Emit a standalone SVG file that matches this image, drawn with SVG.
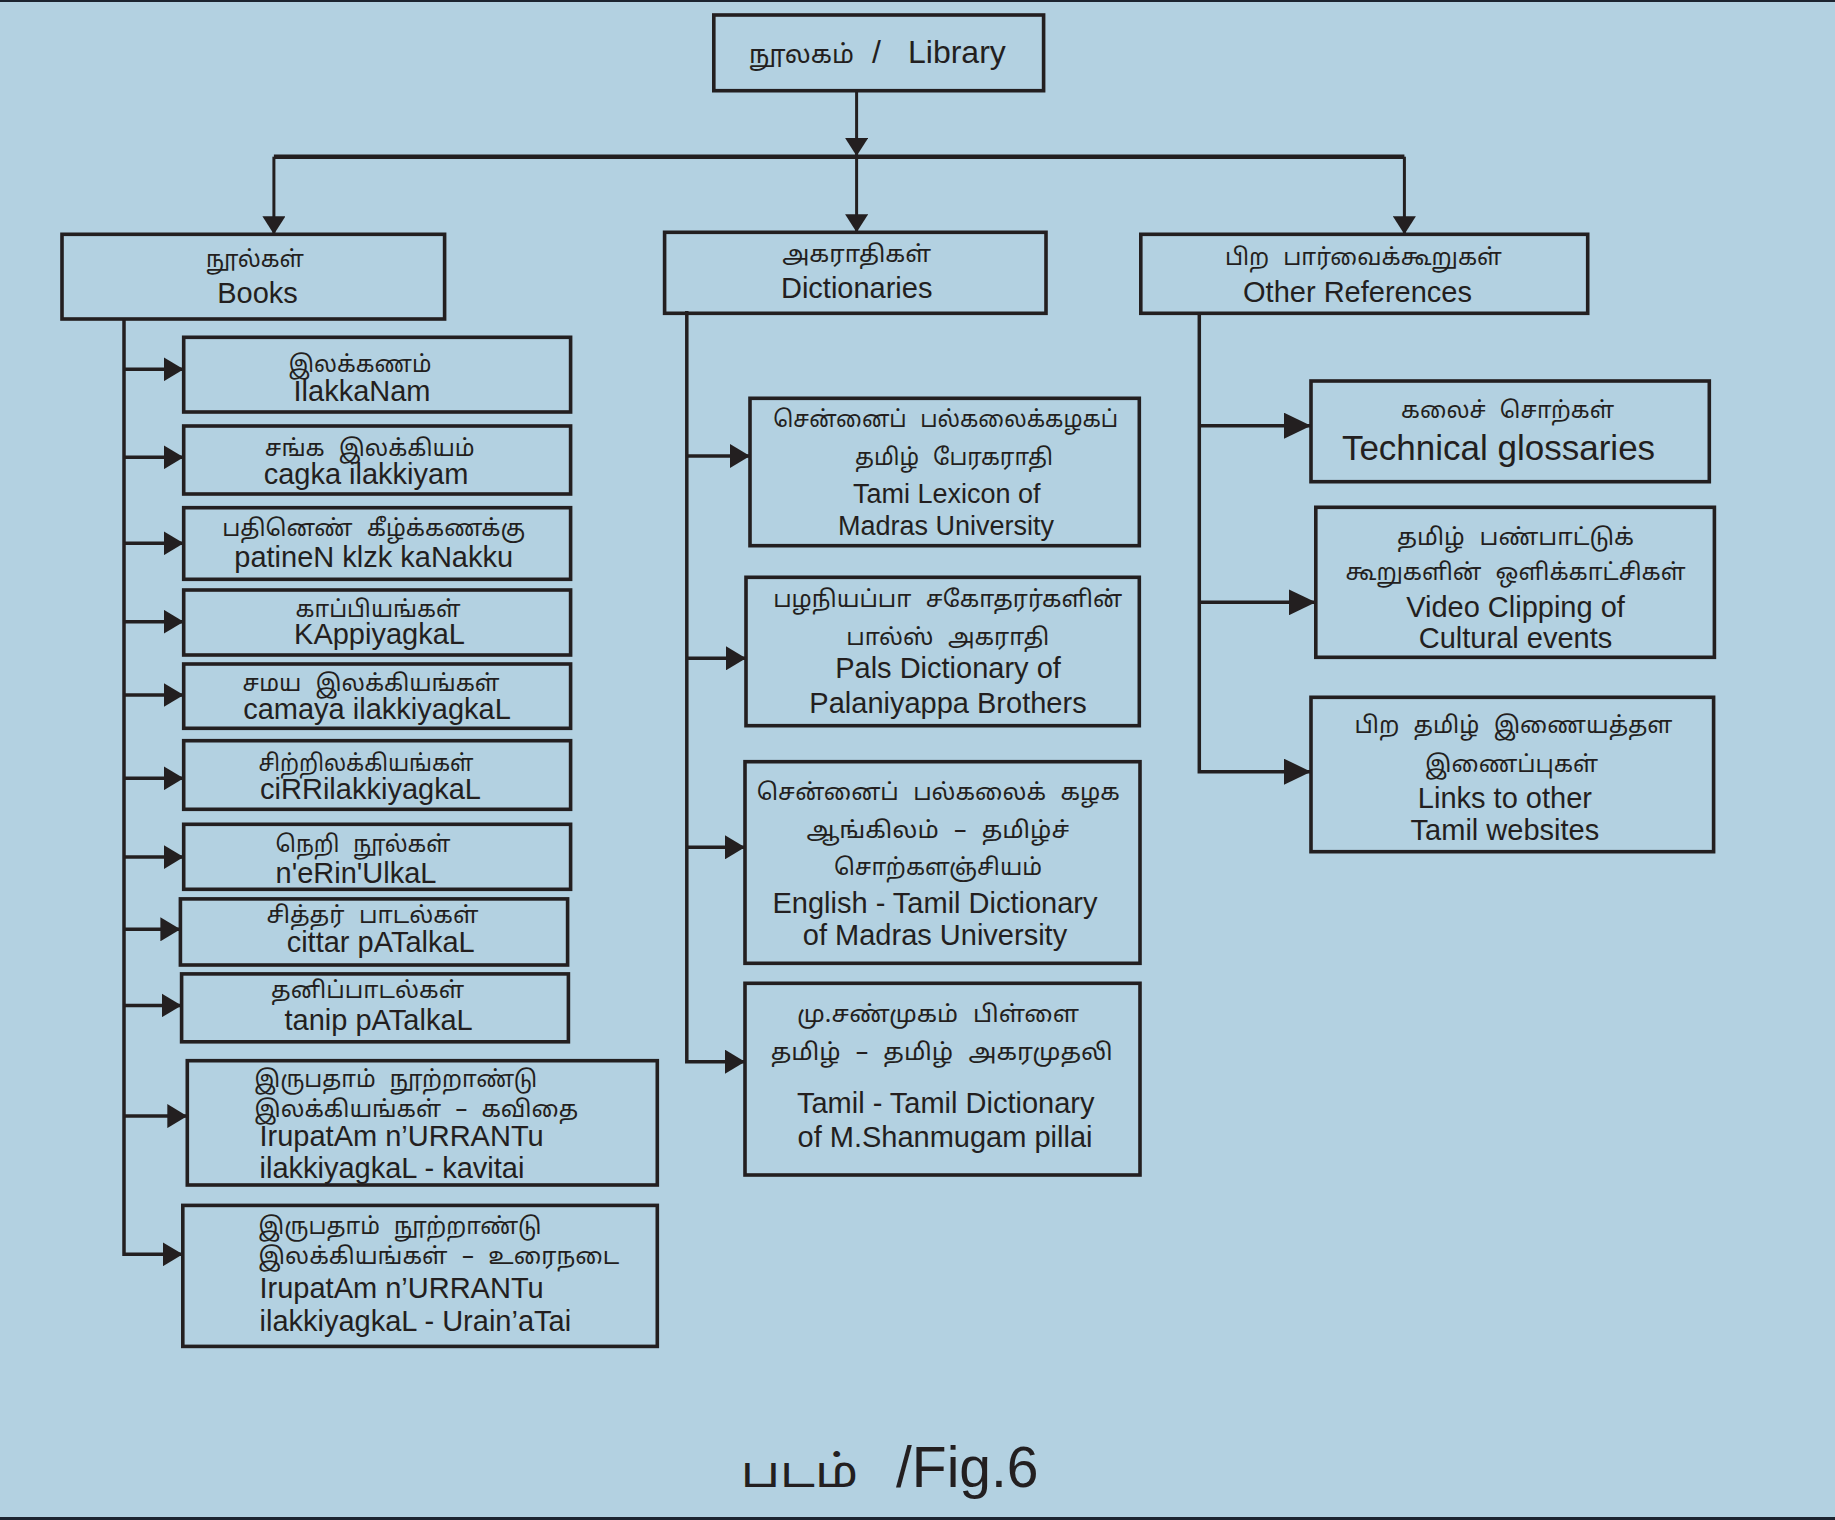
<svg xmlns="http://www.w3.org/2000/svg" width="1835" height="1520" viewBox="0 0 1835 1520">
<style>
.nd rect{fill:none;stroke:#231f20;stroke-width:3.6}
.cn{stroke:#231f20;stroke-width:3.5;fill:none}
.ln{font-family:"Liberation Sans",Arial,sans-serif;font-size:29px;fill:#231f20}
.tm{font-family:"Noto Sans Tamil","Latha","Lohit Tamil","Noto Sans",sans-serif;font-size:23px;fill:#231f20;word-spacing:8px}
.c{text-anchor:middle}
</style>
<defs>
<marker id="ah" markerUnits="userSpaceOnUse" markerWidth="20" markerHeight="24" refX="20" refY="12" orient="auto"><path d="M0,0 L20,12 L0,24 z" fill="#231f20"/></marker>
<marker id="ahs" markerUnits="userSpaceOnUse" markerWidth="18" markerHeight="23" refX="18" refY="11.5" orient="auto"><path d="M0,0 L18,11.5 L0,23 z" fill="#231f20"/></marker>
<marker id="ahb" markerUnits="userSpaceOnUse" markerWidth="27" markerHeight="26" refX="27" refY="13" orient="auto"><path d="M0,0 L27,13 L0,26 z" fill="#231f20"/></marker>
</defs>
<rect x="0" y="0" width="1835" height="1520" fill="#b3d1e1"/>
<rect x="0" y="0" width="1835" height="2" fill="#1c2430"/>
<rect x="0" y="1517" width="1835" height="3" fill="#1c2430"/>

<g id="connectors">
<path class="cn" style="stroke-width:3" d="M856.6,90.7 V156" marker-end="url(#ahs)"/>
<path class="cn" style="stroke-width:4.5" d="M273.9,156.7 H1404.4"/>
<path class="cn" style="stroke-width:3" d="M273.9,156.7 V234.3" marker-end="url(#ahs)"/>
<path class="cn" style="stroke-width:3" d="M856.6,156.7 V232.3" marker-end="url(#ahs)"/>
<path class="cn" style="stroke-width:3" d="M1404.4,156.7 V234.3" marker-end="url(#ahs)"/>

<path class="cn" d="M124,319 V1254.3 H182.8" marker-end="url(#ah)"/>
<path class="cn" d="M124,369.3 H183.7" marker-end="url(#ah)"/>
<path class="cn" d="M124,457.3 H183.7" marker-end="url(#ah)"/>
<path class="cn" d="M124,543.3 H183.7" marker-end="url(#ah)"/>
<path class="cn" d="M124,621.7 H183.7" marker-end="url(#ah)"/>
<path class="cn" d="M124,695 H183.7" marker-end="url(#ah)"/>
<path class="cn" d="M124,778.3 H183.7" marker-end="url(#ah)"/>
<path class="cn" d="M124,857.1 H183.7" marker-end="url(#ah)"/>
<path class="cn" d="M124,929.3 H180.4" marker-end="url(#ah)"/>
<path class="cn" d="M124,1005.4 H181.6" marker-end="url(#ah)"/>
<path class="cn" d="M124,1116.1 H187.3" marker-end="url(#ah)"/>

<path class="cn" d="M686.8,311 V1061.7 H745" marker-end="url(#ah)"/>
<path class="cn" d="M686.8,456 H750" marker-end="url(#ah)"/>
<path class="cn" d="M686.8,658.3 H746" marker-end="url(#ah)"/>
<path class="cn" d="M686.8,847.3 H745" marker-end="url(#ah)"/>

<path class="cn" d="M1199.3,313 V771.7 H1311" marker-end="url(#ahb)"/>
<path class="cn" d="M1199.3,425.7 H1311" marker-end="url(#ahb)"/>
<path class="cn" d="M1199.3,602.3 H1315.8" marker-end="url(#ahb)"/>
</g>

<g id="library" class="nd">
<rect x="713.8" y="15" width="329.8" height="75.7"/>
<text class="tm" x="749" y="63.3" style="font-size:26px" textLength="105" lengthAdjust="spacingAndGlyphs">நூலகம்</text>
<text class="ln" x="872" y="63.3" style="font-size:32px">/</text>
<text class="ln" x="908" y="63.3" style="font-size:32px">Library</text>
</g>

<g id="books" class="nd">
<rect x="62" y="234.3" width="382.6" height="84.7"/>
<text class="tm c" x="255" y="266.7" textLength="98" lengthAdjust="spacingAndGlyphs">நூல்கள்</text>
<text class="ln c" x="257.5" y="303.3">Books</text>
</g>

<g id="dictionaries" class="nd">
<rect x="664.6" y="232.3" width="381.4" height="81"/>
<text class="tm c" x="856.7" y="261.7" textLength="149" lengthAdjust="spacingAndGlyphs">அகராதிகள்</text>
<text class="ln c" x="856.7" y="297.7">Dictionaries</text>
</g>

<g id="other-references" class="nd">
<rect x="1140.8" y="234.3" width="446.9" height="79"/>
<text class="tm c" x="1363.4" y="265" textLength="277" lengthAdjust="spacingAndGlyphs">பிற பார்வைக்கூறுகள்</text>
<text class="ln c" x="1357.5" y="301.7">Other References</text>
</g>

<g id="b1" class="nd">
<rect x="183.7" y="337.3" width="386.9" height="74.7"/>
<text class="tm c" x="360" y="371.5" textLength="143" lengthAdjust="spacingAndGlyphs">இலக்கணம்</text>
<text class="ln c" x="362" y="400.5">IlakkaNam</text>
</g>
<g id="b2" class="nd">
<rect x="183.7" y="426" width="386.9" height="68"/>
<text class="tm c" x="369.7" y="455.5" textLength="210" lengthAdjust="spacingAndGlyphs">சங்க  இலக்கியம்</text>
<text class="ln c" x="366" y="483.8">cagka ilakkiyam</text>
</g>
<g id="b3" class="nd">
<rect x="183.7" y="507.7" width="386.9" height="71.6"/>
<text class="tm c" x="373.7" y="535.5" textLength="303" lengthAdjust="spacingAndGlyphs">பதினெண்  கீழ்க்கணக்கு</text>
<text class="ln c" x="373.7" y="567">patineN klzk kaNakku</text>
</g>
<g id="b4" class="nd">
<rect x="183.7" y="590" width="386.9" height="65"/>
<text class="tm c" x="378" y="616.5" textLength="165" lengthAdjust="spacingAndGlyphs">காப்பியங்கள்</text>
<text class="ln c" x="379.5" y="643.8">KAppiyagkaL</text>
</g>
<g id="b5" class="nd">
<rect x="183.7" y="664" width="386.9" height="64.3"/>
<text class="tm c" x="371" y="691" textLength="257" lengthAdjust="spacingAndGlyphs">சமய  இலக்கியங்கள்</text>
<text class="ln c" x="377" y="718.8">camaya ilakkiyagkaL</text>
</g>
<g id="b6" class="nd">
<rect x="183.7" y="740.7" width="386.9" height="68.6"/>
<text class="tm c" x="366" y="770.5" textLength="215" lengthAdjust="spacingAndGlyphs">சிற்றிலக்கியங்கள்</text>
<text class="ln c" x="370.5" y="798.8">ciRRilakkiyagkaL</text>
</g>
<g id="b7" class="nd">
<rect x="183.7" y="824.3" width="386.9" height="65"/>
<text class="tm c" x="363" y="851.7" textLength="175" lengthAdjust="spacingAndGlyphs">நெறி  நூல்கள்</text>
<text class="ln c" x="356" y="883.2">n'eRin'UlkaL</text>
</g>
<g id="b8" class="nd">
<rect x="180.4" y="898.9" width="387.2" height="66.1"/>
<text class="tm c" x="372.5" y="923.3" textLength="212" lengthAdjust="spacingAndGlyphs">சித்தர்  பாடல்கள்</text>
<text class="ln c" x="380.7" y="952.2">cittar pATalkaL</text>
</g>
<g id="b9" class="nd">
<rect x="181.6" y="973.9" width="386.8" height="67.9"/>
<text class="tm c" x="367.6" y="998.2" textLength="193" lengthAdjust="spacingAndGlyphs">தனிப்பாடல்கள்</text>
<text class="ln c" x="378.6" y="1030.4">tanip pATalkaL</text>
</g>
<g id="b10" class="nd">
<rect x="187.3" y="1060.7" width="470" height="124.3"/>
<text class="tm" x="254.2" y="1087" textLength="283" lengthAdjust="spacingAndGlyphs">இருபதாம்  நூற்றாண்டு</text>
<text class="tm" x="254.2" y="1116.5" textLength="324" lengthAdjust="spacingAndGlyphs">இலக்கியங்கள்  –  கவிதை</text>
<text class="ln" x="259.5" y="1146.4">IrupatAm n’URRANTu</text>
<text class="ln" x="259.5" y="1177.5">ilakkiyagkaL - kavitai</text>
</g>
<g id="b11" class="nd">
<rect x="182.8" y="1205.4" width="474.5" height="141"/>
<text class="tm" x="258.3" y="1234" textLength="283" lengthAdjust="spacingAndGlyphs">இருபதாம்  நூற்றாண்டு</text>
<text class="tm" x="258.3" y="1264" textLength="361" lengthAdjust="spacingAndGlyphs">இலக்கியங்கள்  –  உரைநடை</text>
<text class="ln" x="259.5" y="1298.2">IrupatAm n’URRANTu</text>
<text class="ln" x="259.5" y="1331.1">ilakkiyagkaL - Urain’aTai</text>
</g>

<g id="d1" class="nd">
<rect x="750" y="398.3" width="389.3" height="147.4"/>
<text class="tm c" x="945.7" y="426.7" textLength="345" lengthAdjust="spacingAndGlyphs">சென்னைப்  பல்கலைக்கழகப்</text>
<text class="tm c" x="954" y="465" textLength="198" lengthAdjust="spacingAndGlyphs">தமிழ்  பேரகராதி</text>
<text class="ln c" x="946.7" y="503.3" style="font-size:27px">Tami Lexicon of</text>
<text class="ln c" x="946" y="535" style="font-size:27px">Madras University</text>
</g>
<g id="d2" class="nd">
<rect x="746" y="577.3" width="393.3" height="148.4"/>
<text class="tm c" x="947.7" y="606.7" textLength="349" lengthAdjust="spacingAndGlyphs">பழநியப்பா  சகோதரர்களின்</text>
<text class="tm c" x="947.7" y="645" textLength="203" lengthAdjust="spacingAndGlyphs">பால்ஸ்  அகராதி</text>
<text class="ln c" x="948" y="678.3">Pals Dictionary of</text>
<text class="ln c" x="948" y="713.3">Palaniyappa Brothers</text>
</g>
<g id="d3" class="nd">
<rect x="745" y="761.7" width="395" height="201.6"/>
<text class="tm c" x="938.3" y="800" textLength="363" lengthAdjust="spacingAndGlyphs">சென்னைப்  பல்கலைக்  கழக</text>
<text class="tm c" x="938" y="838.3" textLength="263" lengthAdjust="spacingAndGlyphs">ஆங்கிலம்  –  தமிழ்ச்</text>
<text class="tm c" x="938" y="875" textLength="208" lengthAdjust="spacingAndGlyphs">சொற்களஞ்சியம்</text>
<text class="ln c" x="935" y="913.3">English - Tamil Dictionary</text>
<text class="ln c" x="935" y="945">of Madras University</text>
</g>
<g id="d4" class="nd">
<rect x="745" y="983.3" width="395" height="191.7"/>
<text class="tm c" x="938" y="1021.7" textLength="282" lengthAdjust="spacingAndGlyphs">மு.சண்முகம்  பிள்ளை</text>
<text class="tm c" x="941.7" y="1060" textLength="342" lengthAdjust="spacingAndGlyphs">தமிழ்  –  தமிழ்  அகரமுதலி</text>
<text class="ln c" x="945.7" y="1113.3">Tamil - Tamil Dictionary</text>
<text class="ln c" x="945" y="1146.7">of M.Shanmugam pillai</text>
</g>

<g id="o1" class="nd">
<rect x="1311" y="381" width="398.3" height="100.7"/>
<text class="tm c" x="1507.6" y="418.3" textLength="213" lengthAdjust="spacingAndGlyphs">கலைச்  சொற்கள்</text>
<text class="ln c" x="1498.5" y="460" style="font-size:35px">Technical glossaries</text>
</g>
<g id="o2" class="nd">
<rect x="1315.8" y="507.3" width="398.6" height="150"/>
<text class="tm c" x="1515.5" y="545" textLength="237" lengthAdjust="spacingAndGlyphs">தமிழ்  பண்பாட்டுக்</text>
<text class="tm c" x="1515.5" y="580" textLength="340" lengthAdjust="spacingAndGlyphs">கூறுகளின்  ஒளிக்காட்சிகள்</text>
<text class="ln c" x="1515.5" y="616.7">Video Clipping of</text>
<text class="ln c" x="1515.5" y="648.3">Cultural events</text>
</g>
<g id="o3" class="nd">
<rect x="1311" y="697.3" width="402.6" height="154.4"/>
<text class="tm c" x="1513.5" y="733.3" textLength="318" lengthAdjust="spacingAndGlyphs">பிற  தமிழ்  இணையத்தள</text>
<text class="tm c" x="1511.6" y="771.7" textLength="173" lengthAdjust="spacingAndGlyphs">இணைப்புகள்</text>
<text class="ln c" x="1504.9" y="808.3">Links to other</text>
<text class="ln c" x="1504.9" y="840">Tamil websites</text>
</g>

<g id="caption">
<text class="tm" x="740.7" y="1487.3" style="font-size:44px" textLength="117.6" lengthAdjust="spacingAndGlyphs">படம்</text>
<text class="ln" x="896" y="1487.3" style="font-size:57px">/Fig.6</text>
</g>
</svg>
